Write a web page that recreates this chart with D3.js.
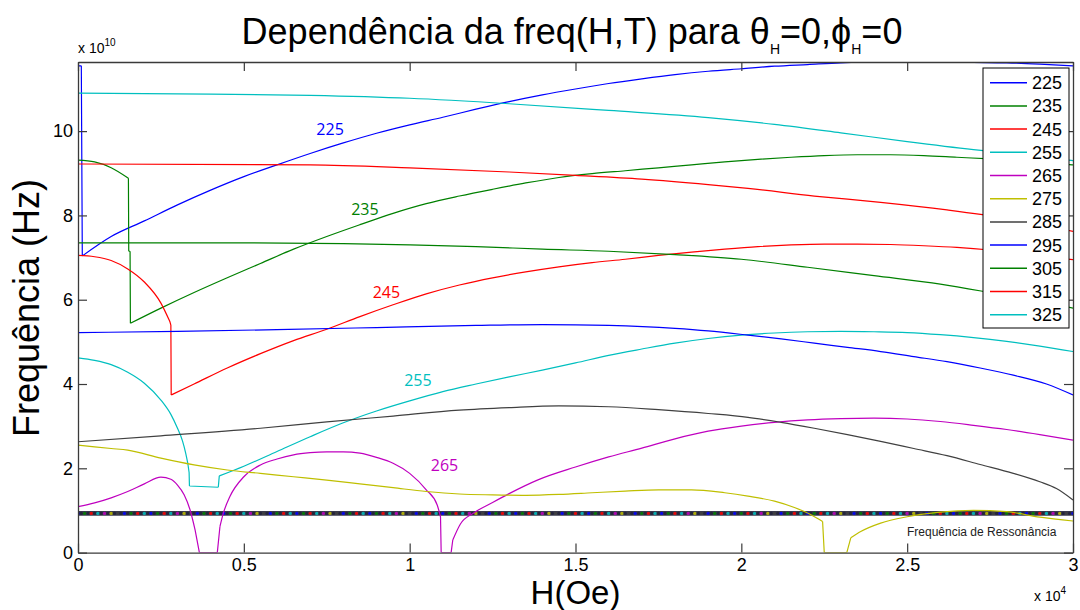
<!DOCTYPE html>
<html>
<head>
<meta charset="utf-8">
<script src="https://cdn.jsdelivr.net/npm/d3@7"></script>
<style>
  body { margin: 0; background: #fff; }
  svg { display: block; }
  text { font-family: "Liberation Sans", Arial, sans-serif; }
</style>
</head>
<body>
<svg id="grafico" width="1080" height="610"></svg>
<script>
// Temperaturas (K) de cada curva
const temperaturas = [225, 235, 245, 255, 265, 275, 285, 295, 305, 315, 325];

// Curvas freq(H): pares [H (x10^4 Oe), f (x10^10 Hz)]
const f225 = [[0, 11.55], [0.01, 11.55], [0.013, 7.04], [0.1, 7.5], [0.2, 7.87], [0.3, 8.25], [0.4, 8.6],
  [0.5, 8.92], [0.6, 9.2], [0.7, 9.47], [0.8, 9.72], [0.9, 9.95], [1.0, 10.15], [1.1, 10.33], [1.2, 10.52],
  [1.3, 10.7], [1.4, 10.86], [1.5, 11.0], [1.6, 11.13], [1.7, 11.24], [1.8, 11.34], [1.9, 11.42], [2.0, 11.48],
  [2.1, 11.54], [2.2, 11.58], [2.3, 11.62], [2.4, 11.64], [2.5, 11.64], [2.6, 11.64], [2.7, 11.63], [2.8, 11.62],
  [2.9, 11.59], [3.0, 11.55]];
const f235 = [[0, 9.31], [0.05, 9.27], [0.1, 9.13], [0.152, 8.88], [0.153, 7.15], [0.157, 7.15], [0.158, 5.44],
  [0.25, 5.8], [0.35, 6.17], [0.45, 6.52], [0.55, 6.86], [0.65, 7.2], [0.75, 7.5], [0.85, 7.78], [0.95, 8.05],
  [1.05, 8.28], [1.15, 8.46], [1.25, 8.62], [1.35, 8.77], [1.45, 8.9], [1.55, 8.99], [1.65, 9.06], [1.75, 9.13],
  [1.85, 9.2], [1.95, 9.27], [2.05, 9.33], [2.15, 9.38], [2.25, 9.42], [2.35, 9.44], [2.45, 9.44], [2.55, 9.42],
  [2.65, 9.38], [2.75, 9.34], [2.85, 9.29], [2.95, 9.23], [3.0, 9.2]];
const f245 = [[0, 7.05], [0.05, 7.02], [0.1, 6.93], [0.15, 6.73], [0.2, 6.42], [0.25, 5.92], [0.277, 5.48],
  [0.28, 5.4], [0.281, 3.74], [0.35, 4.0], [0.45, 4.38], [0.55, 4.72], [0.65, 5.03], [0.75, 5.3], [0.85, 5.6],
  [0.95, 5.88], [1.05, 6.14], [1.15, 6.35], [1.25, 6.52], [1.35, 6.66], [1.45, 6.78], [1.55, 6.88], [1.65, 6.96],
  [1.75, 7.05], [1.85, 7.13], [1.95, 7.2], [2.05, 7.26], [2.15, 7.3], [2.25, 7.32], [2.35, 7.32], [2.45, 7.31],
  [2.55, 7.28], [2.65, 7.24], [2.75, 7.18], [2.85, 7.1], [2.95, 7.0], [3.0, 6.95]];
const f255 = [[0, 4.62], [0.05, 4.56], [0.1, 4.46], [0.15, 4.28], [0.2, 4.02], [0.25, 3.62], [0.28, 3.28],
  [0.3, 2.95], [0.315, 2.65], [0.325, 2.35], [0.331, 2.12], [0.335, 1.9], [0.336, 1.58], [0.423, 1.55],
  [0.426, 1.82], [0.5, 2.05], [0.6, 2.4], [0.7, 2.75], [0.8, 3.08], [0.9, 3.36], [1.0, 3.6], [1.1, 3.82],
  [1.2, 4.0], [1.3, 4.17], [1.4, 4.33], [1.5, 4.5], [1.6, 4.68], [1.7, 4.83], [1.8, 4.97], [1.9, 5.08],
  [2.0, 5.16], [2.1, 5.21], [2.2, 5.24], [2.3, 5.25], [2.4, 5.24], [2.5, 5.22], [2.6, 5.17], [2.7, 5.1],
  [2.8, 5.01], [2.9, 4.9], [3.0, 4.77]];
const f265 = [[0, 1.09], [0.05, 1.18], [0.1, 1.3], [0.15, 1.45], [0.2, 1.63], [0.25, 1.79], [0.28, 1.74],
  [0.3, 1.6], [0.32, 1.37], [0.338, 1.01], [0.353, 0.54], [0.366, 0], [0.42, 0], [0.428, 0.62], [0.438, 0.93],
  [0.458, 1.33], [0.5, 1.8], [0.55, 2.08], [0.6, 2.22], [0.65, 2.32], [0.7, 2.37], [0.75, 2.39], [0.8, 2.39],
  [0.85, 2.36], [0.9, 2.26], [0.95, 2.12], [1.0, 1.88], [1.05, 1.49], [1.083, 1.13], [1.093, 0.85], [1.095, 0],
  [1.125, 0], [1.13, 0.3], [1.153, 0.68], [1.193, 0.94], [1.25, 1.19], [1.3, 1.4], [1.385, 1.72], [1.5, 2.03],
  [1.6, 2.27], [1.7, 2.48], [1.8, 2.7], [1.9, 2.88], [2.0, 3.0], [2.1, 3.09], [2.2, 3.15], [2.3, 3.18],
  [2.4, 3.19], [2.5, 3.17], [2.6, 3.11], [2.7, 3.02], [2.8, 2.92], [2.9, 2.8], [3.0, 2.67]];
const f275 = [[0, 2.55], [0.1, 2.47], [0.15, 2.43], [0.25, 2.24], [0.35, 2.08], [0.45, 1.96], [0.55, 1.88],
  [0.65, 1.8], [0.75, 1.72], [0.85, 1.63], [0.95, 1.54], [1.05, 1.45], [1.15, 1.39], [1.25, 1.37], [1.35, 1.36],
  [1.45, 1.38], [1.55, 1.42], [1.65, 1.46], [1.75, 1.49], [1.85, 1.49], [1.95, 1.42], [2.02, 1.34], [2.1, 1.22],
  [2.16, 1.07], [2.21, 0.9], [2.245, 0.74], [2.25, 0], [2.318, 0], [2.33, 0.35], [2.36, 0.5], [2.42, 0.7],
  [2.5, 0.85], [2.6, 0.96], [2.7, 1.0], [2.8, 0.97], [2.9, 0.84], [3.0, 0.75]];
const f285 = [[0, 2.63], [0.25, 2.77], [0.55, 2.95], [0.75, 3.1], [0.95, 3.24], [1.15, 3.38], [1.3, 3.44],
  [1.45, 3.48], [1.6, 3.46], [1.75, 3.39], [1.9, 3.3], [2.02, 3.21], [2.12, 3.09], [2.22, 2.95], [2.32, 2.8],
  [2.42, 2.64], [2.52, 2.47], [2.62, 2.3], [2.72, 2.09], [2.82, 1.88], [2.9, 1.68], [2.95, 1.52], [3.0, 1.25]];
const f295 = [[0, 5.22], [0.3, 5.25], [0.6, 5.29], [0.9, 5.34], [1.2, 5.39], [1.4, 5.41], [1.6, 5.39],
  [1.8, 5.32], [1.9, 5.26], [2.02, 5.16], [2.12, 5.07], [2.22, 4.97], [2.32, 4.87], [2.42, 4.77], [2.52, 4.65],
  [2.62, 4.53], [2.72, 4.38], [2.82, 4.21], [2.92, 4.0], [3.0, 3.74]];
const f305 = [[0, 7.35], [0.5, 7.35], [0.8, 7.33], [1.0, 7.3], [1.2, 7.26], [1.4, 7.2], [1.6, 7.15],
  [1.8, 7.07], [2.0, 6.96], [2.2, 6.77], [2.4, 6.57], [2.6, 6.37], [2.8, 6.1], [2.9, 5.97], [3.0, 5.8]];
const f315 = [[0, 9.22], [0.7, 9.2], [1.0, 9.13], [1.3, 9.03], [1.5, 8.95], [1.7, 8.86], [1.9, 8.73],
  [2.02, 8.64], [2.22, 8.46], [2.42, 8.31], [2.62, 8.13], [2.8, 7.93], [3.0, 7.62]];
const f325 = [[0, 10.9], [0.4, 10.88], [0.7, 10.85], [1.0, 10.78], [1.3, 10.65], [1.6, 10.49], [1.9, 10.32],
  [2.1, 10.16], [2.3, 9.96], [2.5, 9.75], [2.7, 9.56], [2.85, 9.44], [3.0, 9.3]];

const curvas = [f225, f235, f245, f255, f265, f275, f285, f295, f305, f315, f325];

// Frequência de ressonância (x10^10 Hz)
const fRessonancia = 0.93;

// Marcas dos eixos
const ticksH = [0, 0.5, 1, 1.5, 2, 2.5, 3];
const ticksF = [0, 2, 4, 6, 8, 10];

// Curvas rotuladas no interior do gráfico
const rotuladas = [225, 235, 245, 255, 265];

// ---------------------------------------------------------------
const cores = ["#0000ff", "#008000", "#ff0000", "#00bfbf", "#bf00bf", "#bfbf00",
               "#404040", "#0000ff", "#008000", "#ff0000", "#00bfbf"];

const area = { esq: 78, dir: 1073, topo: 62, base: 552.6 };
const svg = d3.select("#grafico");

const x = d3.scaleLinear().domain([0, 3]).range([area.esq, area.dir]);
const y = d3.scaleLinear().domain([0, 11.64]).range([area.base, area.topo]);

svg.append("defs").append("clipPath").attr("id", "recorte")
  .append("rect")
  .attr("x", area.esq).attr("y", area.topo)
  .attr("width", area.dir - area.esq).attr("height", area.base - area.topo);

// Linha de ressonância (marcadores de todas as séries sobrepostos)
const gRes = svg.append("g").attr("clip-path", "url(#recorte)");
gRes.append("line")
  .attr("x1", x(0)).attr("x2", x(3))
  .attr("y1", y(fRessonancia)).attr("y2", y(fRessonancia))
  .attr("stroke", "#3a3a4c").attr("stroke-width", 4.6);
const gradeH = d3.range(0, 3.0001, 0.01);
gRes.selectAll("circle").data(gradeH).join("circle")
  .attr("cx", d => x(d))
  .attr("cy", y(fRessonancia))
  .attr("r", 1.7)
  .attr("fill", (d, i) => i % 2 ? "#22223a" : cores[(i / 2) % cores.length])
  .attr("fill-opacity", 0.85);

// Curvas: trechos suaves com interpolação monotônica; saltos verticais e
// trechos anulados ligados por segmentos retos
const suave = d3.line().x(d => x(d[0])).y(d => y(d[1])).curve(d3.curveMonotoneX);
const reta = d3.line().x(d => x(d[0])).y(d => y(d[1]));

function caminho(pts) {
  const ehQuebra = (a, b) => (b[0] - a[0]) <= 0.0051 || a[1] === 0 || b[1] === 0;
  let d = "";
  let trecho = [pts[0]];
  for (let i = 1; i < pts.length; i++) {
    const a = pts[i - 1], b = pts[i];
    if (ehQuebra(a, b)) {
      if (trecho.length > 1) d += suave(trecho);
      d += reta([a, b]);
      trecho = [b];
    } else {
      trecho.push(b);
    }
  }
  if (trecho.length > 1) d += suave(trecho);
  return d;
}

const gCurvas = svg.append("g").attr("clip-path", "url(#recorte)");
gCurvas.selectAll("path").data(curvas).join("path")
  .attr("d", caminho)
  .attr("fill", "none")
  .attr("stroke", (d, i) => cores[i])
  .attr("stroke-width", 1.2)
  .attr("stroke-linejoin", "round");

// Eixos (marcas para dentro, caixa fechada)
const corEixo = "#3a3a3a";
function estilo(g) {
  g.selectAll("path.domain").attr("stroke", corEixo).attr("stroke-width", 1.3);
  g.selectAll(".tick line").attr("stroke", corEixo).attr("stroke-width", 1.2);
  g.selectAll(".tick text")
    .attr("fill", "#000")
    .style("font-family", "'Liberation Sans', Arial, sans-serif")
    .style("font-size", "18px");
}

svg.append("g").attr("transform", `translate(0,${area.base})`)
  .call(d3.axisBottom(x).tickValues(ticksH).tickFormat(d3.format("~g")).tickSizeInner(-9).tickSizeOuter(0).tickPadding(6))
  .call(estilo);
svg.append("g").attr("transform", `translate(0,${area.topo})`)
  .call(d3.axisTop(x).tickValues(ticksH).tickFormat("").tickSizeInner(-9).tickSizeOuter(0))
  .call(estilo);
svg.append("g").attr("transform", `translate(${area.esq},0)`)
  .call(d3.axisLeft(y).tickValues(ticksF).tickFormat(d3.format("~g")).tickSizeInner(-9).tickSizeOuter(0).tickPadding(5))
  .call(estilo);
svg.append("g").attr("transform", `translate(${area.dir},0)`)
  .call(d3.axisRight(y).tickValues(ticksF).tickFormat("").tickSizeInner(-9).tickSizeOuter(0))
  .call(estilo);

// Multiplicadores dos eixos
const m1 = svg.append("text").attr("x", 78).attr("y", 53).style("font-size", "14px");
m1.append("tspan").text("x 10");
m1.append("tspan").attr("dy", -7).style("font-size", "10px").text("10");
const m2 = svg.append("text").attr("x", 1034).attr("y", 601).style("font-size", "14px");
m2.append("tspan").text("x 10");
m2.append("tspan").attr("dy", -7).style("font-size", "10px").text("4");

// Rótulos das curvas
const posRotulo = { 225: [0.76, 10.05], 235: [0.865, 8.15], 245: [0.93, 6.18], 255: [1.025, 4.1], 265: [1.105, 2.07] };
svg.append("g").selectAll("text").data(rotuladas).join("text")
  .attr("x", t => x(posRotulo[t][0]))
  .attr("y", t => y(posRotulo[t][1]))
  .attr("text-anchor", "middle")
  .attr("dominant-baseline", "central")
  .attr("fill", t => cores[temperaturas.indexOf(t)])
  .style("font-family", "'Open Sans', sans-serif")
  .style("font-size", "16px")
  .text(t => t);

// Anotação da ressonância
svg.append("text")
  .attr("x", 907).attr("y", 536)
  .attr("fill", "#222")
  .style("font-size", "12px")
  .text("Frequência de Ressonância");

// Legenda
const leg = svg.append("g");
const legX = 983, legY = 68, legL = 86, passo = 23.2;
leg.append("rect")
  .attr("x", legX).attr("y", legY).attr("width", legL).attr("height", 260)
  .attr("fill", "#fff").attr("stroke", "#000").attr("stroke-width", 1);
const itens = leg.selectAll("g.item").data(temperaturas).join("g").attr("class", "item")
  .attr("transform", (d, i) => `translate(0,${legY + 14.7 + i * passo})`);
itens.append("line")
  .attr("x1", legX + 7).attr("x2", legX + 44).attr("y1", 0).attr("y2", 0)
  .attr("stroke", d => cores[temperaturas.indexOf(d)]).attr("stroke-width", 1.5);
itens.append("text")
  .attr("x", legX + 49).attr("y", 6.5)
  .style("font-size", "18px")
  .text(d => d);

// Título
const titulo = svg.append("text")
  .attr("x", 572).attr("y", 44)
  .attr("text-anchor", "middle")
  .style("font-size", "36px");
titulo.append("tspan").text("Dependência da freq(H,T) para θ");
titulo.append("tspan").attr("dy", 10).style("font-size", "14px").text("H");
titulo.append("tspan").attr("dy", -10).text("=0,ϕ");
titulo.append("tspan").attr("dy", 10).style("font-size", "14px").text("H");
titulo.append("tspan").attr("dy", -10).text("=0");

// Títulos dos eixos
svg.append("text")
  .attr("x", (area.esq + area.dir) / 2).attr("y", 604)
  .attr("text-anchor", "middle")
  .style("font-size", "33px")
  .text("H(Oe)");
svg.append("text")
  .attr("transform", "translate(39,308) rotate(-90)")
  .attr("text-anchor", "middle")
  .style("font-size", "36px")
  .text("Frequência (Hz)");
</script>
</body>
</html>
